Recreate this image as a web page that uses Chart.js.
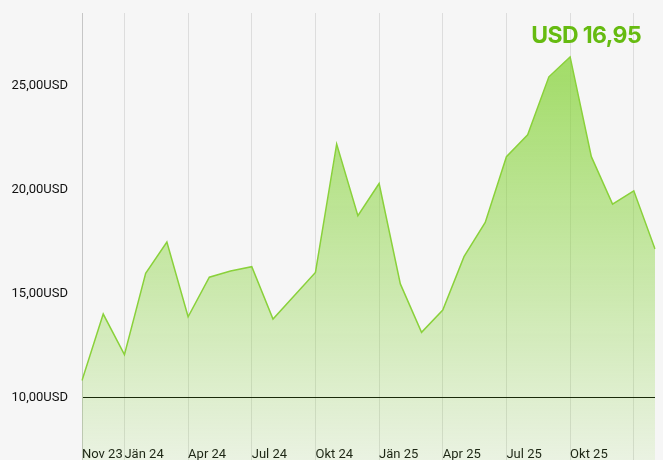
<!DOCTYPE html>
<html>
<head>
<meta charset="utf-8">
<script src="https://cdn.jsdelivr.net/npm/chart.js@4.4.0/dist/chart.umd.min.js"></script>
<style>
html,body{margin:0;padding:0;background:#f6f6f6;overflow:hidden;}
#wrap{position:relative;width:663px;height:460px;}
#price{position:absolute;right:22px;top:21px;font:700 23px Inter,sans-serif;color:#66bb11;letter-spacing:-0.6px;}
</style>
</head>
<body>
<div id="wrap">
<canvas id="chart" width="663" height="460"></canvas>
<div id="price">USD 16,95</div>
</div>
<script>
// monthly prices
const months = ['Nov 23','Dez 23','Jän 24','Feb 24','Mär 24','Apr 24','Mai 24','Jun 24','Jul 24','Aug 24','Sep 24','Okt 24','Nov 24','Dez 24',
  'Jän 25','Feb 25','Mär 25','Apr 25','Mai 25','Jun 25','Jul 25','Aug 25','Sep 25','Okt 25','Nov 25','Dez 25','Jän 26','Feb 26']
const prices = [10.82,14.02,12.07,15.98,17.48,13.89,15.79,16.09,16.30,13.78,14.90,16.02,22.20,18.75,
  20.30,15.47,13.14,14.21,16.78,18.43,21.59,22.64,25.43,26.39,21.59,19.31,19.95,17.15]
const shownTicks = ['Nov 23','Jän 24','Apr 24','Jul 24','Okt 24','Jän 25','Apr 25','Jul 25','Okt 25']
const gridMonths = shownTicks.concat(['Jän 26'])
const yTicks = [10,15,20,25]
const refLine = 10

// x labels sit inside the plot, over the bottom of the fill
const labelsInside = {
  id: 'labelsInside',
  afterLayout(chart) {
    const x = chart.scales.x
    x.top = x.bottom - 13
  }
}

let ctx = document.getElementById('chart').getContext('2d')

let lineChart = new Chart(ctx, {
  type: 'line',
  data: {
    labels: months,
    datasets: [{
      data: prices,
      borderColor: '#8ad13b',
      borderWidth: 1.5,
      pointRadius: 0,
      tension: 0,
      fill: 'start',
      backgroundColor: (c) => {
        const area = c.chart.chartArea
        if (!area) return 'rgba(130,210,50,0.3)'
        const g = c.chart.ctx.createLinearGradient(0, area.top, 0, area.bottom)
        g.addColorStop(0, 'rgba(130,210,50,0.8)')
        g.addColorStop(1, 'rgba(130,210,50,0.1)')
        return g
      }
    }]
  },
  options: {
    responsive: false,
    animation: false,
    layout: { padding: { top: 13, right: 8, left: 0, bottom: 0 } },
    plugins: { legend: { display: false }, tooltip: { enabled: false } },
    scales: {
      x: {
        afterFit: (s) => { s.height = 0; s.paddingLeft = 0; s.paddingRight = 0 },
        border: { display: false },
        grid: {
          drawTicks: false,
          color: (c) => gridMonths.includes(months[c.index]) ? 'rgba(0,0,0,0.1)' : 'transparent'
        },
        ticks: {
          autoSkip: false,
          maxRotation: 0,
          align: 'start',
          padding: 0,
          color: '#111',
          font: { family: 'Roboto', size: 13 },
          callback: (v, i) => shownTicks.includes(months[i]) ? months[i] : ''
        }
      },
      y: {
        min: 7,
        max: 28.5,
        z: 1,
        afterFit: (s) => { s.width = 82; s.paddingTop = 0; s.paddingBottom = 0 },
        afterBuildTicks: (s) => { s.ticks = yTicks.map(v => ({ value: v })) },
        border: { color: 'rgba(0,0,0,0.1)' },
        grid: {
          drawTicks: true,
          tickLength: 14,
          tickColor: 'transparent',
          color: (c) => c.tick && c.tick.value === refLine ? '#000' : 'transparent'
        },
        ticks: {
          padding: 0,
          color: '#111',
          font: { family: 'Roboto', size: 13 },
          callback: (v) => v.toFixed(2).replace('.', ',') + 'USD'
        }
      }
    }
  },
  plugins: [labelsInside]
})
</script>
</body>
</html>
